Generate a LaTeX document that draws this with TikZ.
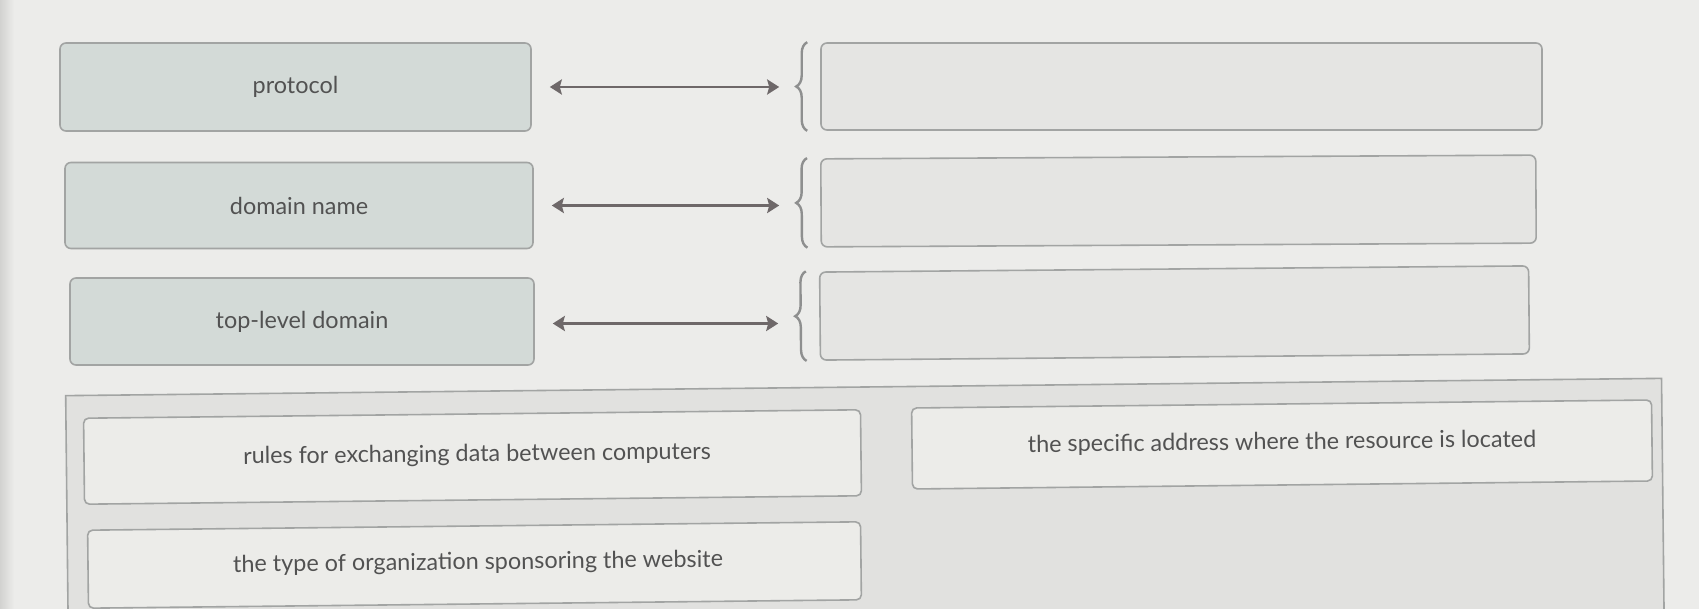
\documentclass[tikz,border=0pt]{standalone}
\usepackage{fontspec}
\setmainfont{Lato}
\usetikzlibrary{positioning,arrows.meta,decorations.pathreplacing}
\definecolor{bg}{HTML}{ECECEA}
\definecolor{edgedark}{HTML}{D2D2D0}
\definecolor{termfill}{HTML}{D3DAD7}
\definecolor{slotfill}{HTML}{E5E5E3}
\definecolor{poolfill}{HTML}{E1E1DF}
\definecolor{cardfill}{HTML}{ECECE9}
\definecolor{boxline}{HTML}{A2A4A3}
\definecolor{arrowcol}{HTML}{6E6869}
\definecolor{bracecol}{HTML}{8E8F8F}
\definecolor{txt}{HTML}{525252}
\begin{document}
\begin{tikzpicture}[x=1pt,y=-1pt,
  term/.style={draw=boxline, fill=termfill, rounded corners=6pt, line width=1.6pt, inner sep=0pt, text=txt, font=\fontsize{23.4}{28}\selectfont},
  slot/.style={draw=boxline, fill=slotfill, rounded corners=6pt, line width=1.6pt, inner sep=0pt},
  card/.style={draw=boxline, fill=cardfill, rounded corners=5pt, line width=1.6pt, inner sep=0pt, rotate=0.62},
  label/.style={text=txt, font=\fontsize{23.4}{28}\selectfont, inner sep=0pt, rotate=0.62},
  link/.style={{Stealth[length=12pt,width=15pt,inset=2pt]}-{Stealth[length=12pt,width=15pt,inset=2pt]}, line width=2.8pt, draw=arrowcol, shorten <=18pt, shorten >=41pt},
  curly/.style={decorate, decoration={brace,amplitude=11pt}, line width=2.4pt, draw=bracecol}]
  \useasboundingbox (0,0) rectangle (1699,609);
  \fill[bg] (0,0) rectangle (1699,609);
  \fill[left color=edgedark, right color=bg] (0,0) rectangle (14,609);
  \node[term, minimum width=471pt, minimum height=88pt] (protocol) at (295.5,87) {protocol};
  \node[term, minimum width=468pt, minimum height=86pt] (domain) at (299,205.5) {domain name};
  \node[term, minimum width=464pt, minimum height=87pt] (tld) at (302,321.5) {top-level domain};
  \node[slot, minimum width=721pt, minimum height=87pt] (slot1) at (1181.5,86.5) {};
  \node[slot, minimum width=715pt, minimum height=88pt, rotate=0.3] (slot2) at (1178.5,201) {};
  \node[slot, minimum width=709pt, minimum height=88pt, rotate=0.5] (slot3) at (1174.5,313) {};
  \draw[link] (protocol.east) -- (protocol.east -| slot1.west);
  \draw[link] (domain.east) -- (domain.east -| slot2.west);
  \draw[link] ([yshift=-2pt]tld.east) -- ([yshift=-2pt]tld.east -| slot3.west);
  \draw[curly] ([xshift=-13pt]slot1.south west) -- ([xshift=-13pt]slot1.north west);
  \draw[curly] ([xshift=-13pt]slot2.south west) -- ([xshift=-13pt]slot2.north west);
  \draw[curly] ([xshift=-13pt]slot3.south west) -- ([xshift=-13pt]slot3.north west);
  \node[draw=boxline, fill=poolfill, line width=1.6pt, minimum width=1596pt, minimum height=260pt, rotate=0.62] (pool) at (865,517) {};
  \node[card, minimum width=777pt, minimum height=86pt] (rules) at (472.5,457) {};
  \node[card, minimum width=740pt, minimum height=81pt] (address) at (1282,444.5) {};
  \node[card, minimum width=773pt, minimum height=78pt] (sponsor) at (474.5,565) {};
  \node[label] (rulestext) at (477,455) {rules for exchanging data between computers};
  \node[label] (addresstext) at (1282,443) {the specific address where the resource is located};
  \node[label] (sponsortext) at (478,563) {the type of organization sponsoring the website};
\end{tikzpicture}
\end{document}
